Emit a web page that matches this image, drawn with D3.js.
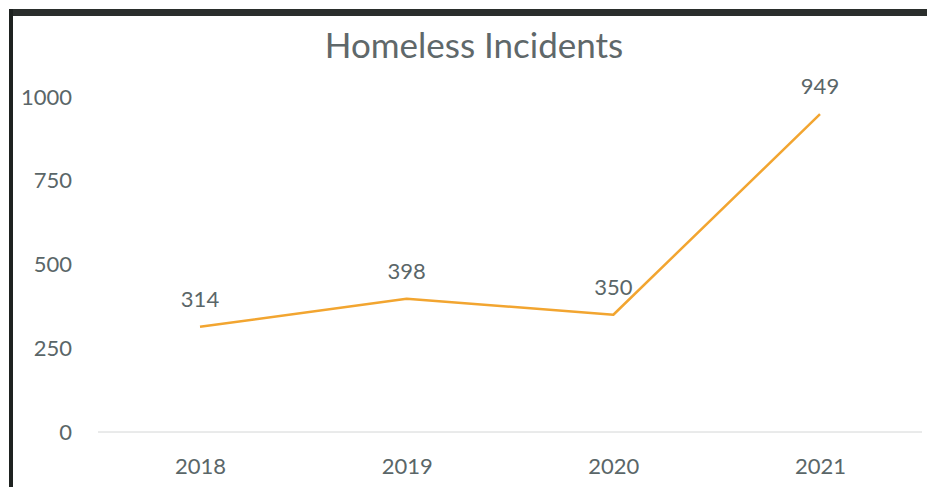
<!DOCTYPE html>
<html>
<head>
<meta charset="utf-8">
<script src="https://cdn.jsdelivr.net/npm/d3@7"></script>
<style>
  body { margin: 0; background: #fff; }
  svg { display: block; font-family: Lato, "Open Sans", sans-serif; }
</style>
</head>
<body>
<div id="chart"></div>
<script>
const years = ["2018", "2019", "2020", "2021"];
const incidents = [314, 398, 350, 949];
const yTicks = [0, 250, 500, 750, 1000];

const width = 927, height = 487;
const svg = d3.select("#chart").append("svg")
    .attr("width", width)
    .attr("height", height);

// scanned frame edges
svg.append("rect").attr("x", 9).attr("y", 9).attr("width", width - 9).attr("height", 7).attr("fill", "#2a2e2c");
svg.append("rect").attr("x", 9).attr("y", 9).attr("width", 4).attr("height", height - 9).attr("fill", "#1e2220");

const x = d3.scalePoint()
    .domain(years)
    .range([200, 820]);

const y = d3.scaleLinear()
    .domain([0, 1000])
    .range([432, 97]);

svg.append("text")
    .attr("x", 474)
    .attr("y", 58)
    .attr("text-anchor", "middle")
    .attr("font-size", 35)
    .attr("fill", "#5f686a")
    .text("Homeless Incidents");

// baseline
svg.append("line")
    .attr("x1", 98).attr("x2", 922)
    .attr("y1", y(0)).attr("y2", y(0))
    .attr("stroke", "#d4d6d6").attr("stroke-width", 1);

const yAxis = svg.append("g")
    .attr("transform", "translate(72,0)")
    .call(d3.axisLeft(y).tickValues(yTicks).tickFormat(d3.format("d")).tickSize(0).tickPadding(0));
yAxis.select(".domain").remove();
yAxis.selectAll("text")
    .attr("font-size", 22)
    .attr("fill", "#5a6668")
    .attr("font-family", "Lato, 'Open Sans', sans-serif");

const xAxis = svg.append("g")
    .attr("transform", "translate(0," + y(0) + ")")
    .call(d3.axisBottom(x).tickSize(0).tickPadding(26));
xAxis.select(".domain").remove();
xAxis.selectAll("text")
    .attr("font-size", 22)
    .attr("fill", "#5a6668")
    .attr("font-family", "Lato, 'Open Sans', sans-serif");

const line = d3.line()
    .x((d, i) => x(years[i]))
    .y(d => y(d));

svg.append("path")
    .datum(incidents)
    .attr("d", line)
    .attr("fill", "none")
    .attr("stroke", "#f2a530")
    .attr("stroke-width", 2.5)
    .attr("stroke-linejoin", "round");

svg.selectAll(".lbl")
    .data(incidents)
    .enter().append("text")
    .attr("class", "lbl")
    .attr("x", (d, i) => x(years[i]))
    .attr("y", d => y(d) - 20)
    .attr("text-anchor", "middle")
    .attr("font-size", 22)
    .attr("fill", "#5a6668")
    .text(d => d);
</script>
</body>
</html>
